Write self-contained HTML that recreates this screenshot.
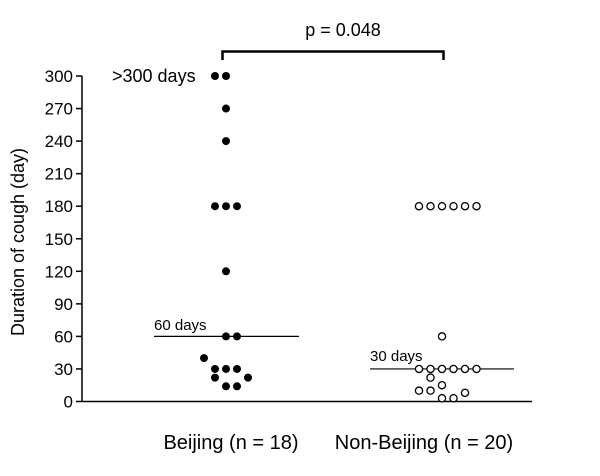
<!DOCTYPE html>
<html><head><meta charset="utf-8"><style>body{margin:0;background:#fff}svg{display:block;font-family:"Liberation Sans",Arial,sans-serif}</style></head>
<body>
<svg width="600" height="476" viewBox="0 0 600 476">
<g id="axes"></g><g id="marks"></g>
<text x="24" y="242" font-size="18" text-anchor="middle" transform="rotate(-90 24 242)">Duration of cough  (day)</text>
<text x="231" y="449" font-size="20" text-anchor="middle">Beijing (n = 18)</text>
<text x="424" y="449" font-size="20" text-anchor="middle">Non-Beijing (n = 20)</text>
<text x="112" y="82" font-size="18">&gt;300 days</text>
<text x="154" y="330" font-size="15">60 days</text>
<text x="370" y="361" font-size="15">30 days</text>
<path d="M222.5 60 V51.5 H443.5 V60" fill="none" stroke="#000" stroke-width="2.5"/>
<text x="343" y="36" font-size="18" text-anchor="middle">p = 0.048</text>
<script>
const ticks=[0,30,60,90,120,150,180,210,240,270,300];
const beijingVals=[300,300,270,240,180,180,180,120,60,60,40,30,30,30,22,22,14,14];
const beijingX=[-1,0,0,0,-1,0,1,0,0,1,-2,-1,0,1,-1,2,0,1];
const nonVals=[180,180,180,180,180,180,60,30,30,30,30,30,30,22,10,10,15,3,3,8];
const nonX=[-2,-1,0,1,2,3,0,-2,-1,0,1,2,3,-1,-2,-1,0,0,1,2];
const medians=[60,30];
const y=v=>401.5-v*325.5/300;
const NS="http://www.w3.org/2000/svg";
const ax=document.getElementById('axes'),mk=document.getElementById('marks');
function add(p,tag,a){const e=document.createElementNS(NS,tag);for(const k in a)e.setAttribute(k,a[k]);p.appendChild(e);return e;}
let l=add(ax,'line',{x1:82,y1:y(300),x2:82,y2:401.5,stroke:'#000','stroke-width':1.5});


l=add(ax,'line',{x1:82,y1:401.5,x2:532,y2:401.5,stroke:'#000','stroke-width':1.5});


ticks.forEach(t=>{
 const tk=add(ax,'line',{x1:76,y1:y(t),x2:82,y2:y(t),stroke:'#000','stroke-width':1.5});
 
 
 const tx=add(ax,'text',{x:73,y:y(t)+6,'font-size':17,'text-anchor':'end'});
 tx.textContent=t;
 
 
});
const mx=[[154,299],[370,514]];
medians.forEach((m,i)=>{
 const ml=add(ax,'line',{x1:mx[i][0],y1:y(m),x2:mx[i][1],y2:y(m),stroke:'#000','stroke-width':1.2});
 
 
});
beijingVals.forEach((v,i)=>{
 const c=add(mk,'circle',{cx:226+beijingX[i]*11,cy:y(v),r:4,fill:'#000'});
 
 
});
nonVals.forEach((v,i)=>{
 const c=add(mk,'circle',{cx:442+nonX[i]*11.5,cy:y(v),r:3.6,fill:'#fff',stroke:'#000','stroke-width':1.3});
 
 
});
</script>
</svg>
</body></html>
